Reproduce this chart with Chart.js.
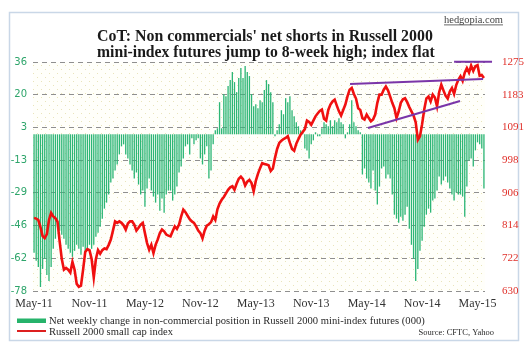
<!DOCTYPE html>
<html>
<head>
<meta charset="utf-8">
<script src="https://cdn.jsdelivr.net/npm/chart.js@4.4.0/dist/chart.umd.min.js"></script>
<style>
  html, body { margin: 0; padding: 0; background: #fff; }
  #wrap { width: 530px; height: 354px; }
</style>
</head>
<body>
<div id="wrap"><canvas id="cot" width="530" height="354"></canvas></div>
<script>
// tick labels (x every 26 weeks)
const xTickLabels = ["May-11", "Nov-11", "May-12", "Nov-12", "May-13", "Nov-13", "May-14", "Nov-14", "May-15"];
const leftTickLabels = ["-78", "-62", "-46", "-29", "-13", "3", "20", "36"];
const rightTickLabels = ["630", "722", "814", "906", "998", "1091", "1183", "1275"];

// net weekly change, non-commercial position (000), weekly May-11 .. May-15
const netChange = [
  -59, -63, -66, -76, -67, -62, -70, -73, -66, -57, -52, -46, -48, -50, -52, -55, -57, -59, -61, -58,
  -55, -57, -60, -56, -61, -58, -55, -57, -55, -51, -49, -46, -42, -37, -34, -30, -24, -22, -18, -15,
  -10, -6, -5,
  -10, -12, -15, -18, -22, -19, -25,
  -30, -28, -36, -27, -22, -28, -31, -34, -30, -38, -32, -39, -30, -28, -28, -33, -30, -26, -19, -16,
  -12, -6, -5, -10, -2, -5, -3, -2, -12, -15, -10, -6, -22, -18, -5,
  2, 3, 16, 3, 20,
  19, 24, 27, 31, 26, 21, 28, 33, 28, 34, 31, 29, 20, 14, 15, 13, 17, 16, 22, 27,
  25, 21, 16, -1, 2, 5, 12, 10, 18, 16, 19, 12, 9, 6, 4, 2, 1,
  -7, -8, -12,
  -5, -3, 1, -1, -1, 3, 6, 5, 4, 7, 4, 7, 6, 8, 6, 5, -2, 1, 5, 17,
  6, 4, 2, 1, -20, -17, -22, -24, -27, -18, -28, -35, -26, -17, -16, -22, -20, -22, -30, -40,
  -42, -44, -41, -43, -40, -36, -47, -55, -62, -73, -67, -58, -53, -46, -40, -37, -39, -33, -32, -28,
  -21, -25, -23, -21, -24, -27, -30, -33, -29, -30, -30, -31, -41, -26, -13, -12, -16, -8, -4, -5,
  -7, -27
];

// Russell 2000 small cap index, weekly
const russell = [
  836, 834, 830, 810, 785, 779, 790, 830, 850, 840, 835, 825, 770, 720, 690, 695, 690, 682, 712, 690,
  650, 642, 645, 690, 740, 748, 745, 720, 668, 720, 745, 735, 745, 750, 748, 760, 775, 800, 826, 822,
  826, 822, 815,
  803, 820, 826, 826, 817, 800, 808,
  817, 822, 793, 765, 746, 760, 737, 760, 775, 793, 803, 798, 789, 786, 784, 798, 812, 805, 817, 840,
  859, 852, 842, 832, 826, 822, 812, 800, 793, 778, 800, 814, 818, 824, 840,
  830, 860, 876, 887, 895,
  905, 915, 922, 925, 915, 932, 946, 952, 945, 927, 938, 943, 934, 911, 940, 960, 976, 990, 988, 986,
  984, 968, 975, 1005, 1030, 1047, 1053, 1058, 1061, 1066, 1047, 1030, 1025, 1045, 1058, 1070, 1078, 1086,
  1110, 1106,
  1098, 1110, 1122, 1130, 1137, 1141, 1115, 1110, 1140, 1155, 1164, 1169, 1152, 1136, 1124, 1140, 1155, 1178, 1197, 1202,
  1185, 1172, 1145, 1140, 1117, 1113, 1127, 1117, 1108, 1113, 1127, 1160, 1183, 1183, 1197, 1206, 1195, 1178, 1160, 1145,
  1117, 1135, 1160, 1170, 1173, 1162, 1148, 1136, 1124, 1105, 1056, 1066, 1100, 1141, 1172, 1178, 1164, 1183, 1175, 1150,
  1190, 1211, 1195, 1180, 1172, 1192, 1202, 1185, 1210, 1225, 1235, 1222, 1245, 1258, 1245, 1265, 1250, 1263, 1266, 1236,
  1238, 1230
];

// hand-drawn trend lines (week index, index level)
const trendTopX = [197, 214.8];
const trendTopY = [1276, 1276];
const trendUpperX = [148.2, 210.6];
const trendUpperY = [1213, 1227];
const trendLowerX = [156.6, 199.8];
const trendLowerY = [1089, 1165];

const serif = "'Liberation Serif', 'Times New Roman', serif";

function pairs(xs, ys) {
  return xs.map((x, i) => ({ x: x, y: ys[i] }));
}

function dotPattern(ctx) {
  const c = document.createElement("canvas");
  c.width = 8; c.height = 8;
  const p = c.getContext("2d");
  p.fillStyle = "#fffffa";
  p.fillRect(0, 0, 8, 8);
  p.fillStyle = "#e9e4bb";
  p.fillRect(1, 1, 1, 1);
  p.fillRect(5, 5, 1, 1);
  return ctx.createPattern(c, "repeat");
}

// draw text squeezed/stretched to a given width
function fitText(ctx, text, x, y, width, font, size) {
  ctx.font = font.replace("{s}", size + "px");
  const w = ctx.measureText(text).width;
  const s = size * width / w;
  ctx.font = font.replace("{s}", s.toFixed(2) + "px");
  ctx.fillText(text, x, y);
}

const decor = {
  id: "decor",
  beforeDraw(chart) {
    const { ctx, chartArea: a } = chart;
    ctx.save();
    ctx.fillStyle = "#fff";
    ctx.fillRect(0, 0, chart.width, chart.height);
    ctx.strokeStyle = "#c9d7e7";
    ctx.lineWidth = 1.5;
    ctx.strokeRect(9.5, 12.5, 509, 328);
    ctx.fillStyle = dotPattern(ctx);
    ctx.fillRect(a.left, a.top, a.width, a.height);
    ctx.restore();
  },
  afterDraw(chart) {
    const ctx = chart.ctx;
    ctx.save();
    ctx.textBaseline = "alphabetic";
    ctx.textAlign = "left";
    ctx.fillStyle = "#1a1a1a";
    fitText(ctx, "CoT: Non commercials' net shorts in Russell 2000", 97, 41, 336, "bold {s} " + serif, 16);
    fitText(ctx, "mini-index futures jump to 8-week high; index flat", 97, 57, 338, "bold {s} " + serif, 16);

    // site mark
    ctx.fillStyle = "#444";
    fitText(ctx, "hedgopia.com", 444, 23, 59, "{s} " + serif, 10);
    ctx.fillRect(444, 24.5, 59, 0.8);

    // legend
    ctx.fillStyle = "#26b36b";
    ctx.fillRect(17, 318.5, 29, 4.5);
    ctx.fillStyle = "#dd1f1f";
    ctx.fillRect(17, 330, 29, 2);
    ctx.fillStyle = "#2a2a2a";
    fitText(ctx, "Net weekly change in non-commercial position in Russell 2000 mini-index futures (000)", 49, 324, 376, "{s} " + serif, 12);
    fitText(ctx, "Russell 2000 small cap index", 49, 335, 124, "{s} " + serif, 12);
    ctx.textAlign = "right";
    ctx.font = "8.5px " + serif;
    ctx.fillText("Source: CFTC, Yahoo", 494, 335);
    ctx.restore();
  }
};

new Chart(document.getElementById("cot"), {
  data: {
    datasets: [
      {
        type: "line",
        label: "top",
        data: pairs(trendTopX, trendTopY),
        yAxisID: "y2",
        borderColor: "#7a35a8",
        borderWidth: 2,
        pointRadius: 0,
        clip: false,
        order: 1
      },
      {
        type: "line",
        label: "upper",
        data: pairs(trendUpperX, trendUpperY),
        yAxisID: "y2",
        borderColor: "#7a35a8",
        borderWidth: 2,
        pointRadius: 0,
        order: 1
      },
      {
        type: "line",
        label: "lower",
        data: pairs(trendLowerX, trendLowerY),
        yAxisID: "y2",
        borderColor: "#7a35a8",
        borderWidth: 2,
        pointRadius: 0,
        order: 1
      },
      {
        type: "line",
        label: "Russell 2000 small cap index",
        data: russell.map((v, i) => ({ x: i, y: v })),
        yAxisID: "y2",
        borderColor: "#f01010",
        borderWidth: 2.6,
        pointRadius: 0,
        tension: 0,
        order: 2
      },
      {
        type: "bar",
        label: "Net weekly change",
        data: netChange.map((v, i) => ({ x: i, y: v })),
        yAxisID: "y",
        backgroundColor: "#2db676",
        barPercentage: 0.62,
        categoryPercentage: 1,
        order: 3
      }
    ]
  },
  options: {
    responsive: false,
    animation: false,
    layout: { padding: { top: 62, left: 0, right: 0, bottom: 0 } },
    plugins: { legend: { display: false }, tooltip: { enabled: false } },
    scales: {
      x: {
        type: "linear",
        min: -0.5,
        max: 211.5,
        offset: false,
        grid: { display: false, drawTicks: false },
        border: { display: false },
        afterBuildTicks: (s) => { s.ticks = xTickLabels.map((_, k) => ({ value: k * 26 })); },
        afterFit: (s) => { s.height = 63; },
        ticks: {
          autoSkip: false,
          maxRotation: 0,
          padding: 6,
          color: "#333",
          font: { family: serif, size: 12 },
          callback: (v, i) => xTickLabels[i]
        }
      },
      y: {
        position: "left",
        min: -78,
        max: 36,
        afterBuildTicks: (s) => { s.ticks = leftTickLabels.map((_, k) => ({ value: -78 + k * 114 / 7 })); },
        afterFit: (s) => { s.width = 33; },
        grid: { color: "#8f8f8f", lineWidth: 1, drawTicks: false },
        border: { display: false, dash: [5, 4] },
        ticks: {
          padding: 6,
          color: "#2ea56b",
          font: { family: "'DejaVu Sans', sans-serif", size: 10 },
          callback: (v, i) => leftTickLabels[i]
        }
      },
      y2: {
        position: "right",
        min: 630,
        max: 1275,
        afterBuildTicks: (s) => { s.ticks = rightTickLabels.map((_, k) => ({ value: 630 + k * 645 / 7 })); },
        afterFit: (s) => { s.width = 45; },
        grid: { display: false },
        border: { display: false },
        ticks: {
          padding: 9,
          color: "#e0302a",
          font: { family: serif, size: 11 },
          callback: (v, i) => rightTickLabels[i]
        }
      }
    }
  },
  plugins: [decor]
});
</script>
</body>
</html>
